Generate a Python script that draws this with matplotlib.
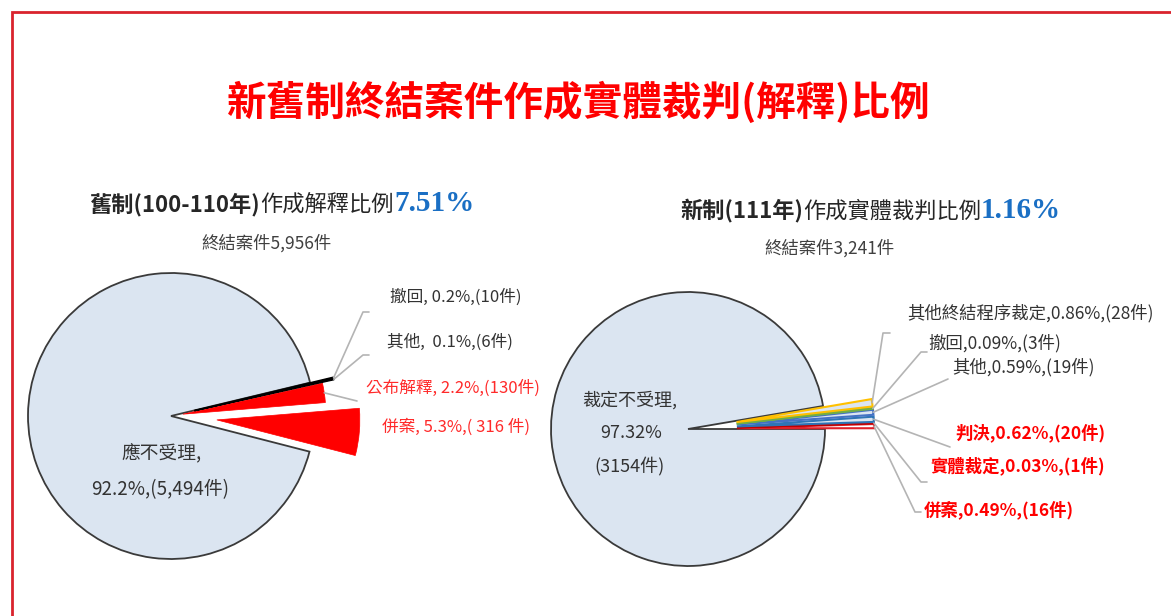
import numpy as np
import matplotlib
matplotlib.use('Agg')
import matplotlib.pyplot as plt
from matplotlib.patches import Rectangle

plt.rcParams['font.family'] = ['Noto Sans CJK TC', 'DejaVu Sans']

W, H = 1171, 616

title = '新舊制終結案件作成實體裁判(解釋)比例'

# 舊制 (100-110年)
old_labels = ['應不受理', '併案', '公布解釋', '其他', '撤回']
old_counts = [5494, 316, 130, 6, 10]
old_pcts = ['92.2%', '5.3%', '2.2%', '0.1%', '0.2%']
old_total = 5956
old_rate = '7.51%'

# 新制 (111年)
new_labels = ['裁定不受理', '併案', '實體裁定', '判決', '其他', '撤回', '其他終結程序裁定']
new_counts = [3154, 16, 1, 20, 19, 3, 28]
new_pcts = ['97.32%', '0.49%', '0.03%', '0.62%', '0.59%', '0.09%', '0.86%']
new_total = 3241
new_rate = '1.16%'

BLUE_FILL = '#dbe5f1'
EDGE = '#3a3a3a'
GRAY_TXT = '#333333'
LEAD = '#b4b4b4'

fig = plt.figure(figsize=(W / 100, H / 100), dpi=100)
ax = fig.add_axes([0, 0, 1, 1])


def Y(y):
    # pixel row (from top) -> data y
    return H - y


# ---- left pie ----  (explode is in data units = pixels here)
old_colors = [BLUE_FILL, '#ff0000', '#ff0000', '#000000', '#000000']
old_explode = [0, 46, 12, 24, 24]
wl, _ = ax.pie(old_counts, explode=old_explode, colors=old_colors, startangle=13.5,
               center=(171, Y(416)), radius=143, counterclock=True,
               wedgeprops=dict(linewidth=1.3, edgecolor=EDGE))
for w in wl[1:3]:
    w.set_edgecolor('#ff0000')
    w.set_linewidth(0.5)
for w in wl[3:]:
    w.set_edgecolor('#000000')
    w.set_linewidth(1.0)

# ---- right pie ----
small_angle = 360 * sum(new_counts[1:]) / new_total
new_colors = [BLUE_FILL, '#ffffff', '#c00000', BLUE_FILL, BLUE_FILL, '#70ad47', BLUE_FILL]
new_edges = [EDGE, '#e0202a', '#c00000', '#2e75b6', '#4472c4', '#70ad47', '#ffc000']
new_explode = [0] + [49] * 6
wr, _ = ax.pie(new_counts, explode=new_explode, colors=new_colors, startangle=small_angle,
               center=(688, Y(429)), radius=137, counterclock=True,
               wedgeprops=dict(linewidth=1.3))
for w, ec in zip(wr, new_edges):
    w.set_edgecolor(ec)
for w in wr[1:]:
    w.set_linewidth(1.5)

ax.set_xlim(0, W)
ax.set_ylim(0, H)
ax.set_aspect('auto')
ax.axis('off')


def outer_mid(w):
    cx, cy = w.center
    t = np.deg2rad((w.theta1 + w.theta2) / 2)
    return cx + w.r * np.cos(t), cy + w.r * np.sin(t)


def leader(w, pts):
    x0, y0 = outer_mid(w)
    xs = [x0] + [p[0] for p in pts]
    ys = [y0] + [Y(p[1]) for p in pts]
    ax.plot(xs, ys, color=LEAD, lw=1.2, solid_capstyle='round')


# left leader lines
leader(wl[4], [(363, 312), (369, 312)])
leader(wl[3], [(363, 355), (369, 355)])
leader(wl[2], [(357, 401)])

# right leader lines
right_knees = {
    1: [(915, 512), (921, 512)],
    2: [(921, 482), (927, 482)],
    3: [(950, 447)],
    4: [(948, 379)],
    5: [(921, 352), (927, 352)],
    6: [(883, 333), (890, 333)],
}
for i, pts in right_knees.items():
    leader(wr[i], pts)

# ---- labels left ----
LFS = 12
ax.text(390, Y(297), f'{old_labels[4]}, {old_pcts[4]},({old_counts[4]}件)',
        fontsize=LFS, color=GRAY_TXT, va='center')
ax.text(387, Y(342), f'{old_labels[3]},  {old_pcts[3]},({old_counts[3]}件)',
        fontsize=LFS, color=GRAY_TXT, va='center')
ax.text(366, Y(388), f'{old_labels[2]}, {old_pcts[2]},({old_counts[2]}件)',
        fontsize=LFS, color='#ff2a2a', va='center')
ax.text(382, Y(427), f'{old_labels[1]}, {old_pcts[1]},( {old_counts[1]} 件)',
        fontsize=LFS, color='#ff2a2a', va='center')

ax.text(162, Y(453), f'{old_labels[0]},', fontsize=13.5, color=GRAY_TXT, ha='center', va='center')
ax.text(160, Y(490), f'{old_pcts[0]},({old_counts[0]:,}件)', fontsize=13.5, color=GRAY_TXT,
        ha='center', va='center')

# ---- labels right ----
RFS = 12.5
right_pos = {6: (907, 313), 5: (928, 343), 4: (952, 367), 3: (955, 433), 2: (930, 466), 1: (924, 510)}
for i, (x, y) in right_pos.items():
    red = i in (1, 2, 3)
    ax.text(x, Y(y), f'{new_labels[i]},{new_pcts[i]},({new_counts[i]}件)', fontsize=RFS,
            color='#ff0000' if red else GRAY_TXT, fontweight='bold' if red else 'normal',
            va='center')

ax.text(630, Y(400), f'{new_labels[0]},', fontsize=13, color=GRAY_TXT, ha='center', va='center')
ax.text(631, Y(433), new_pcts[0], fontsize=13, color=GRAY_TXT, ha='center', va='center')
ax.text(630, Y(467), f'({new_counts[0]}件)', fontsize=13, color=GRAY_TXT, ha='center', va='center')

# ---- titles ----
ax.text(579, Y(103), title, fontsize=28.5, fontweight='bold', color='#ff0000',
        ha='center', va='center')

renderer = fig.canvas.get_renderer()


def run_text(x, y, parts):
    for s, kw in parts:
        t = ax.text(x, Y(y), s, va='baseline', **kw)
        x += t.get_window_extent(renderer).width


SUB = dict(fontsize=16, color='#262626')
RATE = dict(fontsize=21, color='#1a6fc4', fontweight='bold',
            family=['Liberation Serif', 'DejaVu Serif'])
run_text(90, 211, [('舊制(100-110年)', dict(fontweight='bold', **SUB)),
                   ('作成解釋比例', SUB), (old_rate, RATE)])
run_text(680, 218, [('新制(111年)', dict(fontweight='bold', **SUB)),
                    ('作成實體裁判比例', SUB), (new_rate, RATE)])

ax.text(266, Y(243), f'終結案件{old_total:,}件', fontsize=12.5, color='#404040',
        ha='center', va='center')
ax.text(829, Y(248), f'終結案件{new_total:,}件', fontsize=12.5, color='#404040',
        ha='center', va='center')

# red frame
ax.add_patch(Rectangle((12, -20), W + 20, Y(12) + 20, fill=False,
                       edgecolor='#d9232d', lw=2, clip_on=False))

fig.savefig('out.png', dpi=100)
